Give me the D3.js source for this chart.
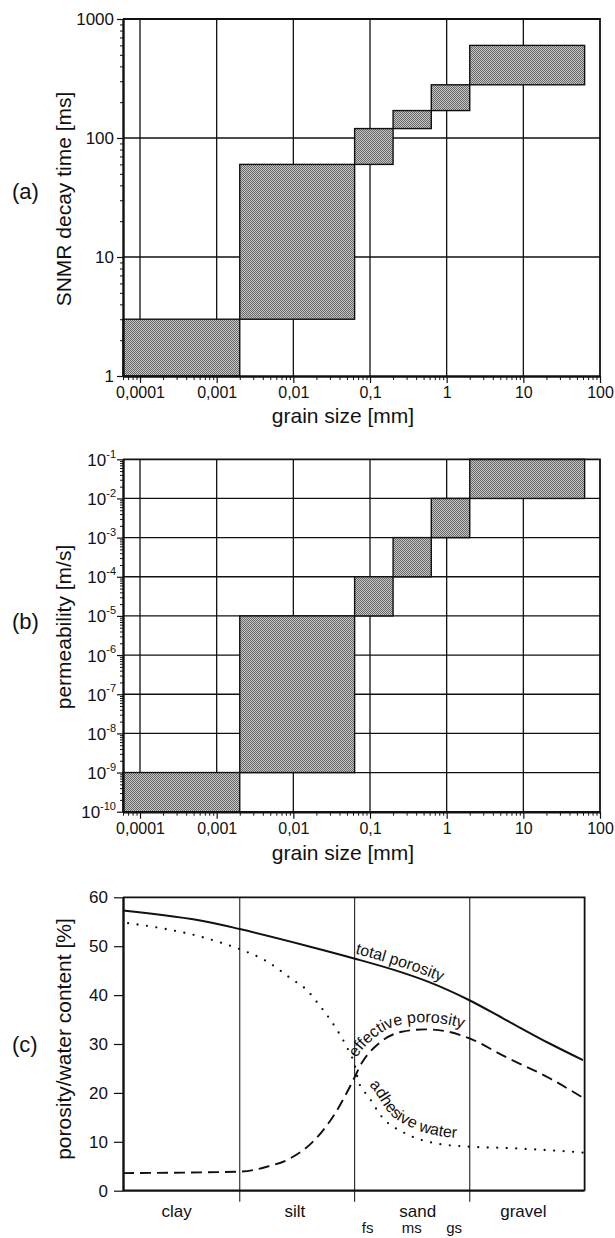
<!DOCTYPE html>
<html>
<head>
<meta charset="utf-8">
<script src="https://cdn.jsdelivr.net/npm/d3@7"></script>
<style>
body { margin: 0; background: #fff; }
svg text { font-family: "Liberation Sans", Arial, Helvetica, sans-serif; fill: #111; }
</style>
</head>
<body>
<div id="chart"></div>
<script>
// grain size classes [mm]
const grainLow = [6e-5, 0.002, 0.063, 0.2, 0.63, 2];
const grainHigh = [0.002, 0.063, 0.2, 0.63, 2, 63];

// (a) SNMR decay time [ms]
const decayLow = [1, 3, 60, 120, 170, 280];
const decayHigh = [3, 60, 120, 170, 280, 600];
const decayTicks = [1, 10, 100, 1000];

// (b) permeability [m/s]
const permLow = [1e-10, 1e-9, 1e-5, 1e-4, 1e-3, 1e-2];
const permHigh = [1e-9, 1e-5, 1e-4, 1e-3, 1e-2, 1e-1];
const permExp = [-10, -9, -8, -7, -6, -5, -4, -3, -2, -1];

const xTicks = [0.0001, 0.001, 0.01, 0.1, 1, 10, 100];
const xTickLabels = ["0,0001", "0,001", "0,01", "0,1", "1", "10", "100"];

// (c) porosity / water content [%]
const totalGrain = [6e-5, 8e-4, 0.002, 0.0166, 0.062, 0.21, 0.58, 1.95, 5.8, 22, 60];
const totalValue = [57.3, 54.9, 53.5, 49.9, 47.5, 45.1, 42.7, 39.0, 35.0, 30.1, 26.7];
const effGrain = [6e-5, 0.002, 0.0045, 0.0091, 0.0193, 0.035, 0.052, 0.062, 0.078, 0.13, 0.26, 0.53, 1.06, 1.95, 5.8, 22, 60];
const effValue = [3.6, 3.9, 4.9, 6.6, 10.5, 15.8, 20.6, 23.0, 26.1, 30.1, 32.5, 33.0, 32.5, 31.2, 27.4, 23.0, 19.0];
const adhGrain = [7e-5, 2.2e-4, 6e-4, 1.2e-3, 2e-3, 4.5e-3, 9.1e-3, 0.0157, 0.0193, 0.035, 0.052, 0.062, 0.071, 0.096, 0.143, 0.29, 0.71, 1.95, 6.9, 60];
const adhValue = [54.7, 53.5, 52.0, 50.6, 49.4, 46.9, 43.5, 40.7, 39.0, 33.5, 28.8, 26.1, 22.3, 19.2, 15.1, 11.7, 9.7, 9.0, 8.7, 7.8];
const porTicks = [0, 10, 20, 30, 40, 50, 60];
const classBounds = [0.002, 0.063, 2];
const classNames = ["clay", "silt", "sand", "gravel"];
const classAt = [3e-4, 0.0105, 0.42, 10];
const sandSub = ["fs", "ms", "gs"];
const sandSubAt = [0.093, 0.35, 1.25];

const width = 615;
const height = 1238;

const svg = d3.select("#chart").append("svg")
    .attr("width", width)
    .attr("height", height);

const x = d3.scaleLog().domain([6e-5, 100]).range([123, 600]);
const xMinor = x.ticks().filter(d => !xTicks.includes(d));

// stipple fill of the boxes
const pat = svg.append("defs").append("pattern")
    .attr("id", "stip")
    .attr("patternUnits", "userSpaceOnUse")
    .attr("width", 2).attr("height", 2);
pat.append("rect").attr("width", 2).attr("height", 2).attr("fill", "#c4c4c4");
pat.append("rect").attr("width", 1).attr("height", 1).attr("fill", "#6a6a6a");
pat.append("rect").attr("x", 1).attr("y", 1).attr("width", 1).attr("height", 1).attr("fill", "#6a6a6a");

function styleAxis(g, w) {
    g.select(".domain").attr("stroke", "#111").attr("stroke-width", w);
    g.selectAll(".tick line").attr("stroke", "#111").attr("stroke-width", 1.2);
    g.selectAll("text").attr("fill", "#111").style("font-family", "Liberation Sans, Arial, sans-serif");
}

function logPanel(y, yMajor, low, high, axisY, tickLabelFn) {
    const g = svg.append("g");
    const [y0, y1] = y.range();

    // grid
    g.selectAll(".vgrid").data(xTicks.slice(0, -1)).enter().append("line")
        .attr("x1", d => x(d)).attr("x2", d => x(d))
        .attr("y1", y0).attr("y2", y1)
        .attr("stroke", "#111").attr("stroke-width", 1.3);
    g.selectAll(".hgrid").data(yMajor.slice(1, -1)).enter().append("line")
        .attr("x1", x.range()[0]).attr("x2", x.range()[1])
        .attr("y1", d => y(d)).attr("y2", d => y(d))
        .attr("stroke", "#111").attr("stroke-width", 1.3);

    // boxes
    g.selectAll(".box").data(d3.range(low.length)).enter().append("rect")
        .attr("x", i => x(grainLow[i]))
        .attr("width", i => x(grainHigh[i]) - x(grainLow[i]))
        .attr("y", i => y(high[i]))
        .attr("height", i => y(low[i]) - y(high[i]))
        .attr("fill", "url(#stip)")
        .attr("stroke", "#111").attr("stroke-width", 1.4);

    // frame top / right
    g.append("path")
        .attr("d", `M${x.range()[0]},${y1}H${x.range()[1]}V${y0}`)
        .attr("fill", "none").attr("stroke", "#111").attr("stroke-width", 1.8);

    // y axis
    const yMinor = y.ticks().filter(d => !yMajor.some(m => Math.abs(m - d) / m < 1e-6));
    g.append("g").attr("transform", `translate(${x.range()[0]},0)`)
        .call(d3.axisLeft(y).tickValues(yMinor).tickSize(3).tickFormat(""))
        .call(a => a.select(".domain").remove())
        .call(a => a.selectAll("line").attr("stroke", "#111"));
    const ya = g.append("g").attr("transform", `translate(${x.range()[0]},0)`)
        .call(d3.axisLeft(y).tickValues(yMajor).tickSize(6).tickSizeOuter(0).tickPadding(3).tickFormat(""))
        .call(a => styleAxis(a, 2.4));
    tickLabelFn(ya);

    // x axis
    g.append("g").attr("transform", `translate(0,${axisY})`)
        .call(d3.axisBottom(x).tickValues(xMinor).tickSize(4).tickFormat(""))
        .call(a => a.select(".domain").remove())
        .call(a => a.selectAll("line").attr("stroke", "#111"));
    g.append("g").attr("transform", `translate(0,${axisY})`)
        .call(d3.axisBottom(x).tickValues(xTicks).tickSize(7).tickSizeOuter(0).tickPadding(4)
            .tickFormat((d, i) => xTickLabels[i]))
        .call(a => styleAxis(a, 2.4))
        .call(a => a.selectAll("text").attr("font-size", 16).attr("dy", "0.71em"));
}

// ---------- (a)
const ya = d3.scaleLog().domain([1, 1000]).range([376, 19]);
logPanel(ya, decayTicks, decayLow, decayHigh, 376, a => {
    a.selectAll(".tick").append("text")
        .attr("x", -9).attr("dy", "0.35em")
        .attr("text-anchor", "end").attr("font-size", 17)
        .text(d => d);
});

// ---------- (b)
const yb = d3.scaleLog().domain([1e-10, 1e-1]).range([811.7, 459.3]);
logPanel(yb, permExp.map(e => Math.pow(10, e)), permLow, permHigh, 811.7, a => {
    const t = a.selectAll(".tick").append("text")
        .attr("x", -7).attr("dy", "0.35em")
        .attr("text-anchor", "end").attr("font-size", 17);
    t.append("tspan").text("10");
    t.append("tspan").attr("font-size", 11).attr("dy", "-0.75em")
        .text(d => "-" + Math.round(-Math.log10(d)));
});

// ---------- (c)
const yc = d3.scaleLinear().domain([0, 60]).range([1190.7, 897.3]);
const gc = svg.append("g");
const cRight = x(63);

gc.selectAll(".cls").data(classBounds).enter().append("line")
    .attr("x1", d => x(d)).attr("x2", d => x(d))
    .attr("y1", yc(60)).attr("y2", yc(0) + 11)
    .attr("stroke", "#222").attr("stroke-width", 1.1);

gc.append("path")
    .attr("d", `M${x.range()[0]},${yc(60)}H${cRight}V${yc(0)}`)
    .attr("fill", "none").attr("stroke", "#111").attr("stroke-width", 1.8);
gc.append("line")
    .attr("x1", x.range()[0]).attr("x2", cRight)
    .attr("y1", yc(0)).attr("y2", yc(0))
    .attr("stroke", "#111").attr("stroke-width", 2.2);

gc.append("g").attr("transform", `translate(${x.range()[0]},0)`)
    .call(d3.axisLeft(yc).tickValues(porTicks).tickSize(9).tickSizeOuter(0).tickPadding(6))
    .call(a => styleAxis(a, 2.4))
    .call(a => a.selectAll("text").attr("font-size", 17));

const line = d3.line()
    .x(d => x(d[0]))
    .y(d => yc(d[1]))
    .curve(d3.curveMonotoneX);

const curves = [
    { id: "tot", g: totalGrain, v: totalValue, dash: null, w: 2, label: "total porosity", from: 0.066, off: 5 },
    { id: "eff", g: effGrain, v: effValue, dash: "11,6", w: 1.9, label: "effective porosity", from: 0.068, off: 7 },
    { id: "adh", g: adhGrain, v: adhValue, dash: "0,9.5", w: 2.3, label: "adhesive water", from: 0.1, off: 8 }
];

const defs = svg.select("defs");
curves.forEach(c => {
    const path = gc.append("path")
        .datum(d3.zip(c.g, c.v))
        .attr("d", line)
        .attr("fill", "none")
        .attr("stroke", "#111")
        .attr("stroke-width", c.w)
        .attr("stroke-linecap", c.dash === "0,9.5" ? "round" : "butt")
        .attr("stroke-dasharray", c.dash);

    // offset copy of the curve for the label
    const node = path.node();
    const L = node.getTotalLength();
    const pts = [];
    for (let s = 0; s <= L; s += 2) {
        const p = node.getPointAtLength(s);
        const q = node.getPointAtLength(Math.min(L, s + 1.5));
        const r = node.getPointAtLength(Math.max(0, s - 1.5));
        const dx = q.x - r.x, dy = q.y - r.y, n = Math.hypot(dx, dy) || 1;
        pts.push([p.x + dy / n * c.off, p.y - dx / n * c.off]);
    }
    let start = 0;
    for (let i = 1; i < pts.length; i++) {
        if (pts[i][0] >= x(c.from)) break;
        start += Math.hypot(pts[i][0] - pts[i - 1][0], pts[i][1] - pts[i - 1][1]);
    }
    defs.append("path").attr("id", "lbl-" + c.id).attr("d", d3.line()(pts));
    gc.append("text").attr("font-size", 16)
        .append("textPath")
        .attr("href", "#lbl-" + c.id)
        .attr("startOffset", start)
        .text(c.label);
});

// class labels under (c)
gc.selectAll(".cname").data(classNames).enter().append("text")
    .attr("x", (d, i) => x(classAt[i]))
    .attr("y", yc(0) + 26)
    .attr("text-anchor", "middle").attr("font-size", 17)
    .text(d => d);
gc.selectAll(".sub").data(sandSub).enter().append("text")
    .attr("x", (d, i) => x(sandSubAt[i]))
    .attr("y", yc(0) + 42)
    .attr("text-anchor", "middle").attr("font-size", 15)
    .text(d => d);

// ---------- titles
const titles = [
    { t: "SNMR decay time [ms]", y: 199 },
    { t: "permeability [m/s]", y: 627 },
    { t: "porosity/water content [%]", y: 1039 }
];
svg.selectAll(".ytitle").data(titles).enter().append("text")
    .attr("transform", d => `translate(71,${d.y}) rotate(-90)`)
    .attr("text-anchor", "middle").attr("font-size", 21)
    .text(d => d.t);

svg.selectAll(".xtitle").data([423, 860]).enter().append("text")
    .attr("x", 343).attr("y", d => d)
    .attr("text-anchor", "middle").attr("font-size", 21)
    .text("grain size [mm]");

svg.selectAll(".plabel").data([["(a)", 199], ["(b)", 629], ["(c)", 1052]]).enter().append("text")
    .attr("x", 12).attr("y", d => d[1])
    .attr("font-size", 22)
    .text(d => d[0]);
</script>
</body>
</html>
